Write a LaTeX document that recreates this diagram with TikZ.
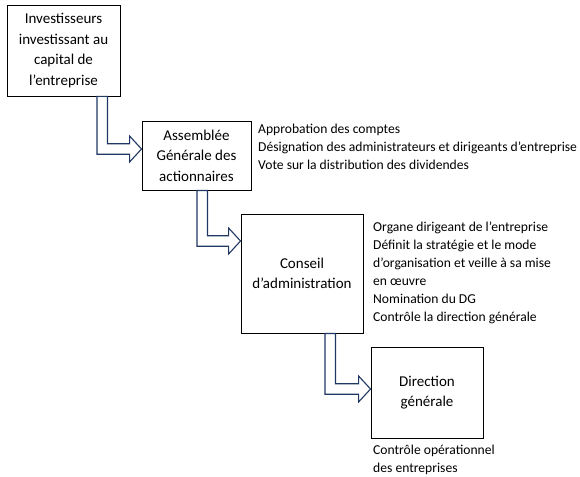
\documentclass[tikz,border=0pt]{standalone}
\usepackage{fontspec}
\setmainfont{Carlito}
\usetikzlibrary{calc}
\definecolor{arrowblue}{HTML}{203864}
\tikzset{
  box/.style={draw=black, line width=0.9pt, fill=white, align=center,
    font=\fontsize{15}{20.5}\selectfont, inner sep=2pt},
  note/.style={anchor=north west, align=left, inner sep=0pt,
    font=\fontsize{13.6}{18}\selectfont},
  flowarrow/.style={draw=arrowblue, line width=1.1pt, fill=white, line join=miter}
}
% bent block arrow: #1 source node, #2 target node, #3 left x of shaft, #4 y of tip
\newcommand\bentarrow[4]{%
  \draw[flowarrow] let \p1=(#1.south), \p2=(#2.west) in
    (#3,\y1) -- (#3,{#4+5.25}) -- ({\x2-12pt},{#4+5.25}) -- ({\x2-12pt},{#4+13})
    -- (\x2,{#4}) -- ({\x2-12pt},{#4-13}) -- ({\x2-12pt},{#4-5.25})
    -- ({#3+10.5},{#4-5.25}) -- ({#3+10.5},\y1) -- cycle;
}
\begin{document}
\begin{tikzpicture}[x=1pt,y=-1pt]
\useasboundingbox (0,0) rectangle (580,476);
\fill[white] (0,0) rectangle (580,476);

\node[box, minimum width=113pt, minimum height=91pt] (inv) at (63.5,50.5)
  {Investisseurs\\investissant au\\capital de\\l’entreprise};
\node[box, minimum width=109pt, minimum height=69pt] (ag) at (196.5,155.5)
  {Assemblée\\Générale des\\actionnaires};
\node[box, minimum width=122pt, minimum height=119pt] (ca) at (302,273.5)
  {Conseil\\d’administration};
\node[box, minimum width=112pt, minimum height=91pt] (dg) at (427,392.5)
  {Direction\\générale};

\bentarrow{inv}{ag}{97}{149}
\bentarrow{ag}{ca}{197}{241}
\bentarrow{ca}{dg}{325}{389}

\node[note] (agnote) at (258,123.5)
  {Approbation des comptes\\Désignation des administrateurs et dirigeants d’entreprise\\Vote sur la distribution des dividendes};
\node[note] (canote) at (373,221.5)
  {Organe dirigeant de l’entreprise\\Définit la stratégie et le mode\\d’organisation et veille à sa mise\\en œuvre\\Nomination du DG\\Contrôle la direction générale};
\node[note] (dgnote) at (373,444.5)
  {Contrôle opérationnel\\des entreprises};
\end{tikzpicture}
\end{document}
